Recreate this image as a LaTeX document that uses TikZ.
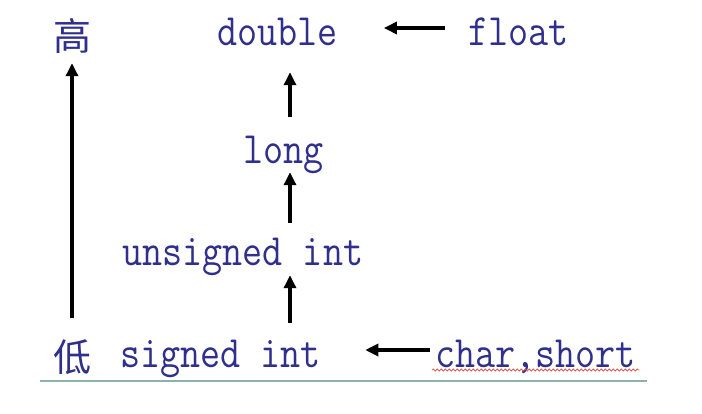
\documentclass[tikz,border=0pt]{standalone}
\usepackage{fontspec}
\newfontfamily\cjk{Noto Sans CJK SC}
\usetikzlibrary{arrows.meta,decorations.pathmorphing}
\definecolor{ink}{RGB}{48,48,140}
\definecolor{rulecol}{RGB}{140,178,175}
\definecolor{squiggle}{RGB}{214,96,86}
\newcommand{\tallmono}[1]{\scalebox{1}[1.15]{#1}}
\begin{document}
\begin{tikzpicture}[x=1pt,y=-1pt,
  typename/.style={anchor=base west,inner sep=0pt,text=ink,
    font=\ttfamily\fontsize{39pt}{40pt}\selectfont,
    text height=28pt,text depth=9pt},
  rank/.style={anchor=base,inner sep=0pt,text=ink,
    font=\cjk\fontsize{38pt}{40pt}\selectfont,
    text height=30pt,text depth=4pt},
  conv/.style={-{Triangle[length=13pt,width=12pt]},line width=3.2pt,black}]
\useasboundingbox (0,0) rectangle (702,413);

% rank labels
\node[rank] (high) at (72,50) {高};
\node[rank] (low)  at (72,371) {低};

% type names
\node[typename] (double)   at (217,45)  {\tallmono{double}};
\node[typename] (float)    at (468,45)  {\tallmono{float}};
\node[typename] (long)     at (243,163) {\tallmono{long}};
\node[typename] (unsigned) at (122,265) {\tallmono{unsigned int}};
\node[typename] (signed)   at (120,367) {\tallmono{signed int}};
\node[typename] (char)     at (435,367) {\tallmono{char,short}};

% column of the upward conversions
\coordinate (spine) at (290,0);

% conversion arrows
\draw[conv,shorten <=23pt,shorten >=9pt] (low.north) -- (high.south);
\draw[conv,shorten <=18pt,shorten >=18pt] (long.north -| spine) -- (double.south -| spine);
\draw[conv,shorten <=14pt,shorten >=0pt] (unsigned.north -| spine) -- (long.south -| spine);
\draw[conv,shorten <=16pt,shorten >=1pt] (signed.north -| spine) -- (unsigned.south -| spine);
\draw[conv,shorten <=23pt,shorten >=46pt] ([yshift=17pt]float.base west) -- ([yshift=17pt]double.base east);
\draw[conv,shorten <=5pt,shorten >=44pt] ([yshift=17pt]char.base west) -- ([yshift=17pt]signed.base east);

% spell-check squiggle and base rule
\draw[squiggle,line width=0.8pt,decorate,decoration={snake,amplitude=1pt,segment length=4pt}]
  ([xshift=-3pt,yshift=-3pt]char.base west) -- ([xshift=3pt,yshift=-3pt]char.base east);
\draw[rulecol,line width=2pt] (40,381) -- (647,381);
\end{tikzpicture}
\end{document}
